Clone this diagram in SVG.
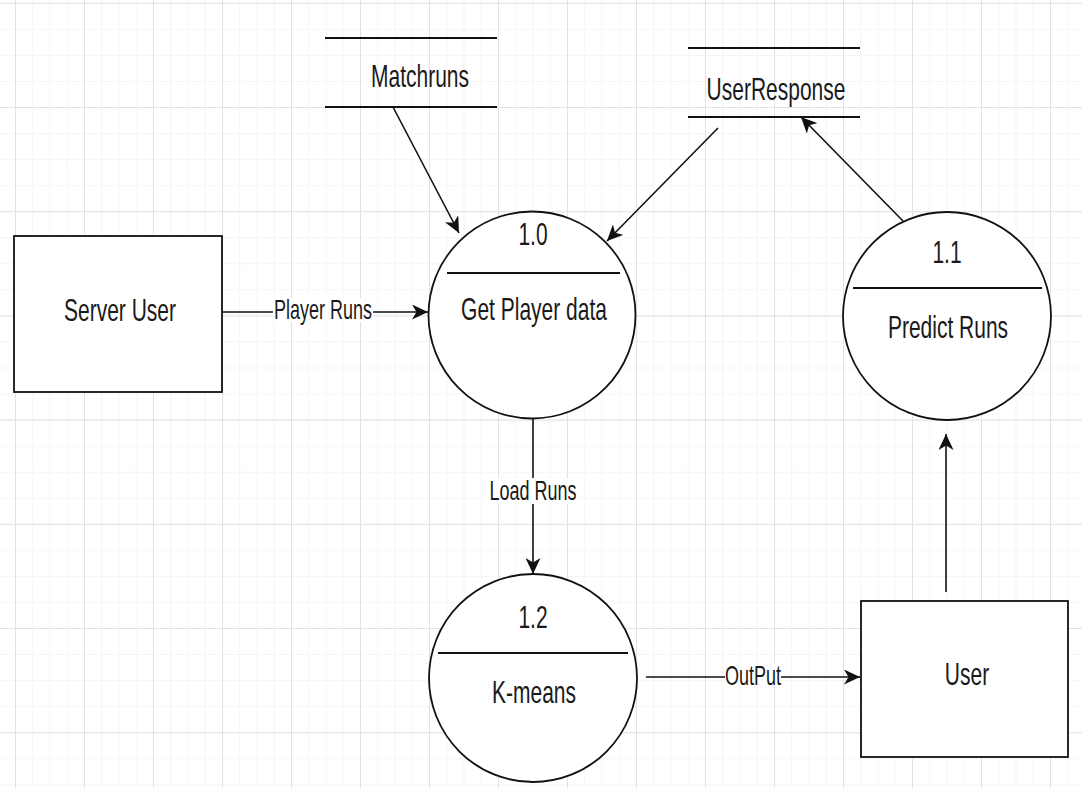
<svg xmlns="http://www.w3.org/2000/svg" width="1082" height="788" viewBox="0 0 1082 788">
<style>
.t{font-family:"Liberation Sans",Arial,sans-serif;fill:#1a1a1a;text-anchor:middle}
.n{font-size:21px}
.l{font-size:18px}
.shape{fill:#fff;stroke:#111;stroke-width:1.8}
.bar{stroke:#111;stroke-width:2}
.c{fill:none;stroke:#111;stroke-width:1.6}
.bg{fill:#fff}
</style>
<defs>
<pattern id="minor" patternUnits="userSpaceOnUse" x="15" y="2.8" width="17.25" height="26.05">
<path d="M0.5,0 V26.05 M0,0.5 H17.25" fill="none" stroke="#f5f5f5" stroke-width="1"/>
</pattern>
<pattern id="major" patternUnits="userSpaceOnUse" x="15" y="2.8" width="69" height="104.2">
<path d="M0.5,0 V104.2 M0,0.5 H69" fill="none" stroke="#e2e2e2" stroke-width="1"/>
</pattern>
<marker id="arr" markerUnits="userSpaceOnUse" markerWidth="17" markerHeight="15" refX="16" refY="7.5" orient="auto">
<path d="M0,0 L16,7.5 L0,15 L4.5,7.5 Z" fill="#111"/>
</marker>
</defs>
<rect width="1082" height="788" fill="#fff"/>
<rect width="1082" height="788" fill="url(#minor)"/>
<rect width="1082" height="788" fill="url(#major)"/>

<g id="connectors">
<path class="c" d="M222,312 H428" marker-end="url(#arr)"/>
<rect class="bg" x="273" y="298" width="100" height="24"/>
<text class="t l" transform="translate(323,319) scale(1,1.5)">Player Runs</text>
<path class="c" d="M393,107 L459,233" marker-end="url(#arr)"/>
<path class="c" d="M718,128 L607,241" marker-end="url(#arr)"/>
<path class="c" d="M903,221 L801,117" marker-end="url(#arr)"/>
<path class="c" d="M533,418 V574" marker-end="url(#arr)"/>
<rect class="bg" x="486" y="478" width="94" height="26"/>
<text class="t l" transform="translate(533,500) scale(1,1.5)">Load Runs</text>
<path class="c" d="M646,677 H860" marker-end="url(#arr)"/>
<rect class="bg" x="725" y="663" width="56" height="24"/>
<text class="t l" transform="translate(753,685) scale(1,1.5)">OutPut</text>
<path class="c" d="M946,592 V434" marker-end="url(#arr)"/>
</g>

<g id="matchruns">
<line class="bar" x1="325" y1="38" x2="497" y2="38"/>
<line class="bar" x1="325" y1="107" x2="497" y2="107"/>
<text class="t n" transform="translate(420,87) scale(1,1.5)">Matchruns</text>
</g>

<g id="userresponse">
<line class="bar" x1="688" y1="48" x2="860" y2="48"/>
<line class="bar" x1="688" y1="117" x2="860" y2="117"/>
<text class="t n" transform="translate(776,100) scale(1,1.5)">UserResponse</text>
</g>

<g id="server-user">
<rect class="shape" x="14" y="236" width="208" height="156"/>
<text class="t n" transform="translate(120,321) scale(1,1.5)">Server User</text>
</g>

<g id="p1-0">
<circle class="shape" cx="532" cy="315" r="103.5"/>
<line class="bar" x1="447" y1="273" x2="620" y2="273"/>
<text class="t n" transform="translate(533,245) scale(1,1.5)">1.0</text>
<text class="t n" transform="translate(534,320) scale(1,1.5)">Get Player data</text>
</g>

<g id="p1-1">
<circle class="shape" cx="947" cy="316" r="104"/>
<line class="bar" x1="853" y1="288" x2="1042" y2="288"/>
<text class="t n" transform="translate(947,263) scale(1,1.5)">1.1</text>
<text class="t n" transform="translate(948,338) scale(1,1.5)">Predict Runs</text>
</g>

<g id="p1-2">
<circle class="shape" cx="533" cy="678" r="104"/>
<line class="bar" x1="438" y1="653" x2="628" y2="653"/>
<text class="t n" transform="translate(533,628) scale(1,1.5)">1.2</text>
<text class="t n" transform="translate(534,703) scale(1,1.5)">K-means</text>
</g>

<g id="user">
<rect class="shape" x="861" y="601" width="207" height="156"/>
<text class="t n" transform="translate(967,685) scale(1,1.5)">User</text>
</g>
</svg>
